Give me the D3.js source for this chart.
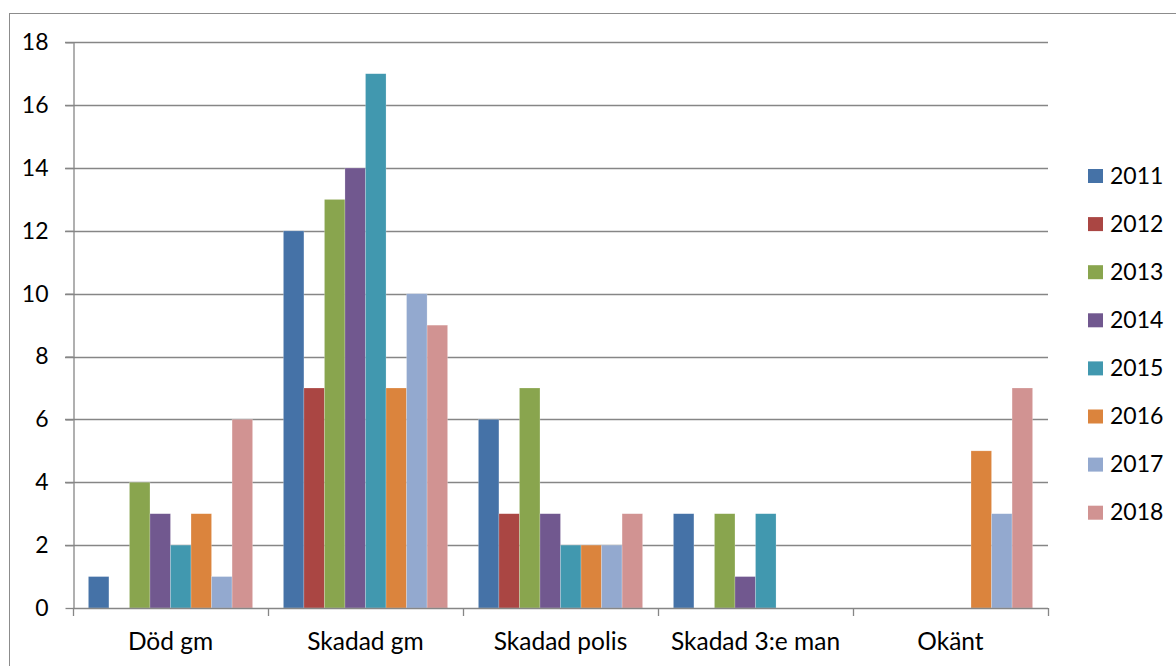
<!DOCTYPE html>
<html><head><meta charset="utf-8">
<script src="https://cdn.jsdelivr.net/npm/d3@7"></script>
<style>html,body{margin:0;padding:0;background:#fff;}svg{display:block;}</style>
</head><body>
<script>
const categories = ["Död gm", "Skadad gm", "Skadad polis", "Skadad 3:e man", "Okänt"];
const seriesNames = ["2011","2012","2013","2014","2015","2016","2017","2018"];
const s2011 = [1, 12, 6, 3, 0];
const s2012 = [0, 7, 3, 0, 0];
const s2013 = [4, 13, 7, 3, 0];
const s2014 = [3, 14, 3, 1, 0];
const s2015 = [2, 17, 2, 3, 0];
const s2016 = [3, 7, 2, 0, 5];
const s2017 = [1, 10, 2, 0, 3];
const s2018 = [6, 9, 3, 0, 7];
const yTicks = [0, 2, 4, 6, 8, 10, 12, 14, 16, 18];
const colors = ["#4572A7","#AA4643","#89A54E","#71588F","#4198AF","#DB843D","#93A9CF","#D19392"];

(function () {
const series = [s2011,s2012,s2013,s2014,s2015,s2016,s2017,s2018];
const W = 1176, H = 666;
const svg = d3.select("body").append("svg").attr("width", W).attr("height", H);
const font = "Lato, 'Open Sans', sans-serif";
const fs = 23;
const fsCat = 24.5;
const gridColor = "#868686";

// outer frame
svg.append("rect").attr("x", 9.5).attr("y", 13.5).attr("width", 1200).attr("height", 700)
  .attr("fill", "none").attr("stroke", "#8c8c8c").attr("stroke-width", 1);

const pLeft = 73, pRight = 1048, pTop = 42.3, pBottom = 608;
const y = d3.scaleLinear().domain([0, 18]).range([pBottom, pTop]);
const x0 = d3.scaleBand().domain(categories).range([pLeft, pRight]).padding(0);
const x1 = d3.scaleBand().domain(seriesNames).range([0, x0.bandwidth()]).paddingInner(0).paddingOuter(0.75);

// gridlines
svg.append("g").selectAll("line").data(yTicks.filter(d => d > 0)).join("line")
  .attr("x1", pLeft - 8).attr("x2", pRight)
  .attr("y1", d => Math.round(y(d)) + 0.5).attr("y2", d => Math.round(y(d)) + 0.5)
  .attr("stroke", gridColor).attr("stroke-width", 1.3);

// bars
const g = svg.append("g");
categories.forEach((c, ci) => {
  seriesNames.forEach((s, si) => {
    const v = series[si][ci];
    if (v > 0) {
      g.append("rect")
        .attr("x", x0(c) + x1(s)).attr("width", x1.bandwidth())
        .attr("y", y(v)).attr("height", y(0) - y(v))
        .attr("fill", colors[si])
        .attr("stroke", "rgba(255,255,255,0.35)").attr("stroke-width", 0.6);
    }
  });
});

// y axis
const yAxis = d3.axisLeft(y).tickValues(yTicks).tickSize(8).tickPadding(17).tickSizeOuter(0);
const ya = svg.append("g").attr("transform", `translate(${pLeft + 0.5},0)`).call(yAxis);
ya.select(".domain").attr("stroke", gridColor).attr("stroke-width", 1.3);
ya.selectAll(".tick line").attr("stroke", gridColor).attr("stroke-width", 1.3);
ya.selectAll(".tick text").attr("font-family", font).attr("font-size", fs).attr("fill", "#000");

// x axis
svg.append("line").attr("x1", pLeft).attr("x2", pRight).attr("y1", pBottom + 0.5).attr("y2", pBottom + 0.5)
  .attr("stroke", gridColor).attr("stroke-width", 1.3);
const bounds = categories.map(c => x0(c)).concat([pRight]);
svg.append("g").selectAll("line").data(bounds).join("line")
  .attr("x1", d => Math.round(d) + 0.5).attr("x2", d => Math.round(d) + 0.5)
  .attr("y1", pBottom).attr("y2", pBottom + 8)
  .attr("stroke", gridColor).attr("stroke-width", 1.3);
svg.append("g").selectAll("text").data(categories).join("text")
  .attr("x", d => x0(d) + x0.bandwidth() / 2).attr("y", 650)
  .attr("text-anchor", "middle").attr("font-family", font).attr("font-size", fsCat).attr("fill", "#000")
  .text(d => d);

// legend
const lg = svg.append("g");
seriesNames.forEach((s, i) => {
  const cy = 176 + i * 48.1;
  lg.append("rect").attr("x", 1088).attr("y", cy - 7).attr("width", 15).attr("height", 14).attr("fill", colors[i]);
  lg.append("text").attr("x", 1110).attr("y", cy + 7.5).attr("font-family", font).attr("font-size", fs)
    .attr("fill", "#000").text(s);
});
})();
</script>
</body></html>
